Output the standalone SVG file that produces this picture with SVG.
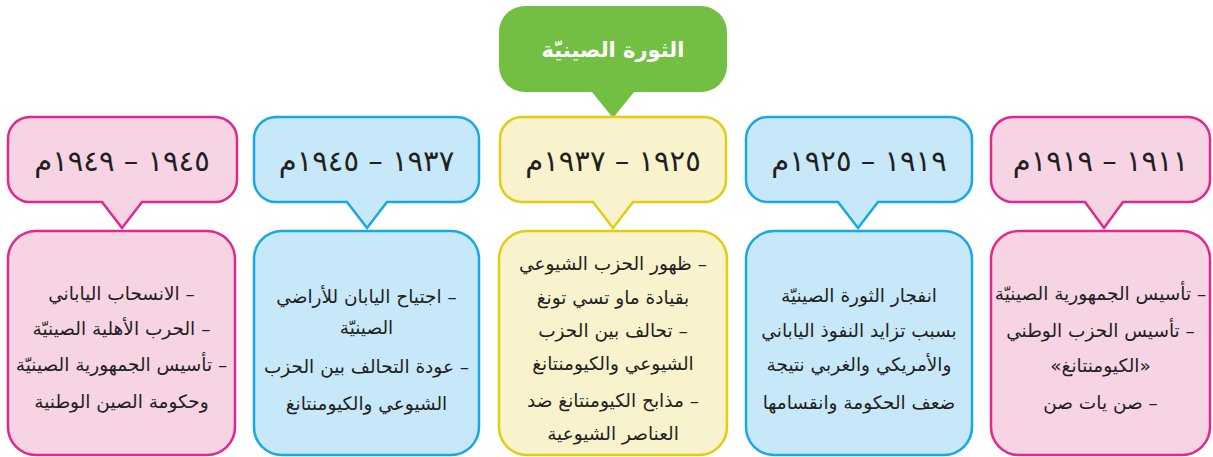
<svg xmlns="http://www.w3.org/2000/svg" width="1213" height="457" viewBox="0 0 1213 457">
<style>
.pink{fill:#f6d4e4;stroke:#e0288e;stroke-width:2.5}
.blue{fill:#c7e8f8;stroke:#18a8e2;stroke-width:2.5}
.yellow{fill:#f8f2cd;stroke:#e2cd12;stroke-width:2.5}
.green{fill:#72bf44}
text{font-family:'DejaVu Sans',sans-serif;fill:#231f20;text-anchor:middle;direction:rtl}
.hd{font-size:29px}
.bd{font-size:18.5px}
.tt{font-size:21px;font-weight:bold;fill:#ffffff}
</style>
<g id="title">
<path class="green" d="M525,6 H701 A26,26 0 0 1 727,32 V66 A26,26 0 0 1 701,92 H634 L613,118 L592,92 H525 A26,26 0 0 1 499,66 V32 A26,26 0 0 1 525,6 Z"/>
<text class="tt" x="613" y="57">الثورة الصينيّة</text>
</g>
<g id="connectors"></g>
<g id="h1">
<path class="pink" d="M30,117 H215 A22,22 0 0 1 237,139 V180 A22,22 0 0 1 215,202 H142 L122,228 L102,202 H30 A22,22 0 0 1 8,180 V139 A22,22 0 0 1 30,117 Z"/>
<text class="hd" x="122" y="171">١٩٤٥ – ١٩٤٩م</text>
</g>
<g id="b1">
<rect class="pink" x="8" y="231" width="227" height="224" rx="28"/>
<text class="bd" x="121.5" y="300">– الانسحاب الياباني</text>
<text class="bd" x="121.5" y="335">– الحرب الأهلية الصينيّة</text>
<text class="bd" x="121.5" y="371">– تأسيس الجمهورية الصينيّة</text>
<text class="bd" x="121.5" y="408">وحكومة الصين الوطنية</text>
</g>
<g id="h2">
<path class="blue" d="M276,117 H457 A22,22 0 0 1 479,139 V180 A22,22 0 0 1 457,202 H387 L367,228 L347,202 H276 A22,22 0 0 1 254,180 V139 A22,22 0 0 1 276,117 Z"/>
<text class="hd" x="366.5" y="171">١٩٣٧ – ١٩٤٥م</text>
</g>
<g id="b2">
<rect class="blue" x="254" y="231" width="225" height="224" rx="28"/>
<text class="bd" x="366.5" y="303">– اجتياح اليابان للأراضي</text>
<text class="bd" x="366.5" y="334">الصينيّة</text>
<text class="bd" x="366.5" y="373">– عودة التحالف بين الحزب</text>
<text class="bd" x="366.5" y="410">الشيوعي والكيومنتانغ</text>
</g>
<g id="h3">
<path class="yellow" d="M522,117 H704 A22,22 0 0 1 726,139 V180 A22,22 0 0 1 704,202 H633 L613,228 L593,202 H522 A22,22 0 0 1 500,180 V139 A22,22 0 0 1 522,117 Z"/>
<text class="hd" x="613" y="171">١٩٢٥ – ١٩٣٧م</text>
</g>
<g id="b3">
<rect class="yellow" x="499" y="231" width="228" height="224" rx="28"/>
<text class="bd" x="613" y="270">– ظهور الحزب الشيوعي</text>
<text class="bd" x="613" y="304">بقيادة ماو تسي تونغ</text>
<text class="bd" x="613" y="337">– تحالف بين الحزب</text>
<text class="bd" x="613" y="370">الشيوعي والكيومنتانغ</text>
<text class="bd" x="613" y="407">– مذابح الكيومنتانغ ضد</text>
<text class="bd" x="613" y="440">العناصر الشيوعية</text>
</g>
<g id="h4">
<path class="blue" d="M768,117 H950 A22,22 0 0 1 972,139 V180 A22,22 0 0 1 950,202 H878 L858,228 L838,202 H768 A22,22 0 0 1 746,180 V139 A22,22 0 0 1 768,117 Z"/>
<text class="hd" x="859" y="171">١٩١٩ – ١٩٢٥م</text>
</g>
<g id="b4">
<rect class="blue" x="746" y="231" width="226" height="224" rx="28"/>
<text class="bd" x="859" y="302">انفجار الثورة الصينيّة</text>
<text class="bd" x="859" y="337">بسبب تزايد النفوذ الياباني</text>
<text class="bd" x="859" y="371">والأمريكي والغربي نتيجة</text>
<text class="bd" x="859" y="409">ضعف الحكومة وانقسامها</text>
</g>
<g id="h5">
<path class="pink" d="M1013,117 H1188 A22,22 0 0 1 1210,139 V180 A22,22 0 0 1 1188,202 H1123 L1104,228 L1085,202 H1013 A22,22 0 0 1 991,180 V139 A22,22 0 0 1 1013,117 Z"/>
<text class="hd" x="1100.5" y="171">١٩١١ – ١٩١٩م</text>
</g>
<g id="b5">
<rect class="pink" x="991" y="231" width="219" height="224" rx="28"/>
<text class="bd" x="1100.5" y="300">– تأسيس الجمهورية الصينيّة</text>
<text class="bd" x="1100.5" y="337">– تأسيس الحزب الوطني</text>
<text class="bd" x="1100.5" y="372">«الكيومنتانغ»</text>
<text class="bd" x="1100.5" y="409">– صن يات صن</text>
</g>
</svg>
